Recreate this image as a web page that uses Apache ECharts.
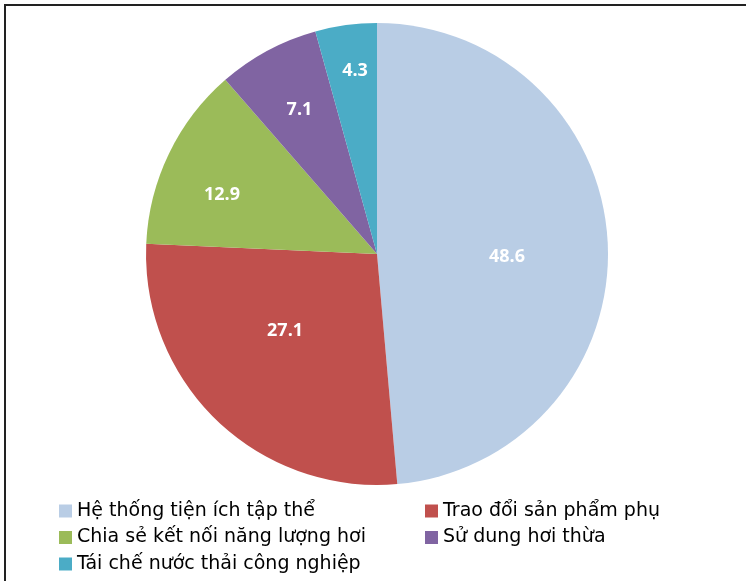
<!DOCTYPE html>
<html><head><meta charset="utf-8">
<script src="https://cdn.jsdelivr.net/npm/echarts@6/dist/echarts.min.js"></script>
<style>html,body{margin:0;padding:0;background:#fff}#c{width:746px;height:581px}</style>
</head><body><div id="c"></div>
<script>
const categories = ['Hệ thống tiện ích tập thể','Trao đổi sản phẩm phụ','Chia sẻ kết nối năng lượng hơi','Sử dung hơi thừa','Tái chế nước thải công nghiệp'];
const values = [48.6, 27.1, 12.9, 7.1, 4.3];
const colors = ['#B9CDE5','#C0504D','#9BBB59','#8064A2','#4BACC6'];
// label placement style (Excel "best fit" look): radius ratio and angular tweak in degrees
const labelRadiusRatio = [0.563, 0.52, 0.718, 0.709, 0.80];
const labelAngleTweak = [-3.8, -6.2, 4.9, 0, -0.9];

const CX = 377, CY = 254, R = 231;
const total = values.reduce((a,b)=>a+b,0);
const cum = []; let acc = 0;
values.forEach(v => { cum.push(acc + v/2); acc += v; });

const chart = echarts.init(document.getElementById('c'));
const legendText = {fontFamily:'DejaVu Sans', fontSize:19, lineHeight:20, color:'#000'};
chart.setOption({
  animation:false,
  color: colors,
  graphic:[
    {type:'line', shape:{x1:4,y1:5,x2:746,y2:5}, style:{stroke:'#222', lineWidth:2}},
    {type:'line', shape:{x1:5,y1:5,x2:5,y2:581}, style:{stroke:'#222', lineWidth:2}}
  ],
  legend:[
    {data:[categories[0],categories[2],categories[4]], orient:'vertical', left:59, top:501, height:80, padding:0,
     icon:'rect', itemWidth:13, itemHeight:13, itemGap:6.5, textStyle:legendText, selectedMode:false},
    {data:[categories[1],categories[3]], orient:'vertical', left:425, top:501, height:80, padding:0,
     icon:'rect', itemWidth:13, itemHeight:13, itemGap:6.5, textStyle:legendText, selectedMode:false}
  ],
  series:[{
    type:'pie', center:[CX,CY], radius:R, startAngle:90, clockwise:true,
    data: categories.map((n,i)=>({name:n, value:values[i]})),
    label:{show:true, position:'inside', formatter:'{c}', color:'#fff', fontWeight:'bold',
      fontFamily:'Open Sans', fontSize:18},
    labelLine:{show:false},
    labelLayout: function(p){
      const i = p.dataIndex;
      const ang = (90 - cum[i]/total*360 + labelAngleTweak[i]) * Math.PI/180;
      const d = labelRadiusRatio[i]*R;
      return {x: CX + Math.cos(ang)*d, y: CY - Math.sin(ang)*d, align:'center', verticalAlign:'middle'};
    },
    itemStyle:{borderWidth:0},
    emphasis:{disabled:true}
  }]
});
</script></body></html>
